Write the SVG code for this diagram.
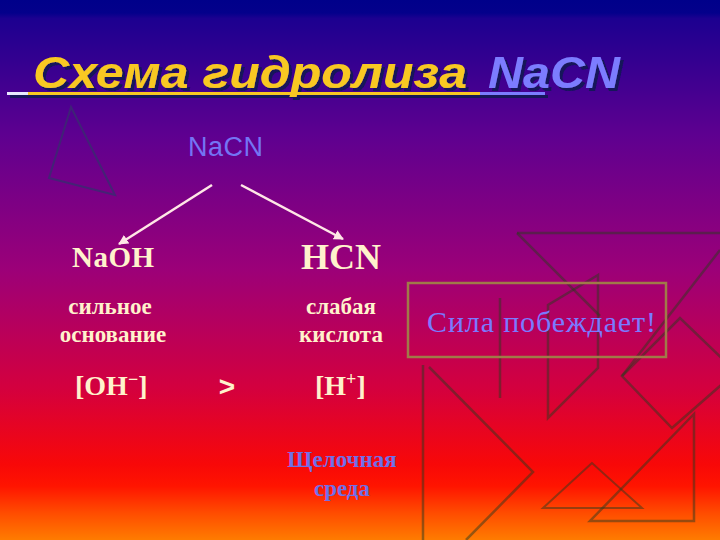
<svg xmlns="http://www.w3.org/2000/svg" width="720" height="540" viewBox="0 0 720 540">
<defs>
<linearGradient id="bg" x1="0" y1="0" x2="0" y2="1">
<stop offset="0" stop-color="#00008a"/>
<stop offset="0.024" stop-color="#04008b"/>
<stop offset="0.034" stop-color="#1c0090"/>
<stop offset="0.25" stop-color="#5e0090"/>
<stop offset="0.5" stop-color="#9c0078"/>
<stop offset="0.72" stop-color="#d4003e"/>
<stop offset="0.86" stop-color="#f80808"/>
<stop offset="0.9" stop-color="#ff1400"/>
<stop offset="0.95" stop-color="#ff4c00"/>
<stop offset="1" stop-color="#ff7c00"/>
</linearGradient>
<filter id="shadow" x="-5%" y="-20%" width="115%" height="150%">
<feOffset in="SourceAlpha" dx="2.5" dy="2.5" result="o"/>
<feFlood flood-color="#14145a"/>
<feComposite in2="o" operator="in" result="s"/>
<feMerge><feMergeNode in="s"/><feMergeNode in="SourceGraphic"/></feMerge>
</filter>
<marker id="ah" viewBox="0 0 10 10" refX="9" refY="5" markerWidth="4" markerHeight="4" orient="auto" markerUnits="strokeWidth">
<path d="M0,0 L10,5 L0,10 z" fill="#ffe6e6"/>
</marker>
<style>
.deco{fill:none;stroke:#2e3a1e;stroke-opacity:0.5;stroke-width:2.5;stroke-linejoin:miter}
.title{font-family:"Liberation Sans",Arial,sans-serif;font-weight:bold;font-style:italic;font-size:45px}
.serif{font-family:"Liberation Serif","Times New Roman",serif;font-weight:bold}
.cream{fill:#fff2cc}
.blue{fill:#7474f4}
.conn{stroke:#ffe6e6;stroke-width:2.5;fill:none;marker-end:url(#ah)}
</style>
</defs>
<rect x="0" y="0" width="720" height="540" fill="url(#bg)"/>

<g id="decor">
<polygon class="deco" points="71,107 49,178 115,195" style="stroke:#3a2a70;stroke-opacity:0.8;stroke-width:2"/>
<line class="deco" x1="517" y1="233" x2="720" y2="233"/>
<line class="deco" x1="517" y1="233" x2="600" y2="316"/>
<polygon class="deco" points="598,275 548,305 548,418 598,368"/>
<line class="deco" x1="720" y1="250" x2="622" y2="376"/>
<polygon class="deco" points="622,376 680,318 736,372 672,428"/>
<line class="deco" x1="500" y1="298" x2="500" y2="398"/>
<polyline class="deco" points="423,365 423,540"/>
<polyline class="deco" points="429,367 533,472 466,540"/>
<polygon class="deco" points="592,463 543,508 642,508" style="stroke-width:2"/>
<polygon class="deco" points="694,414 694,521 590,521" style="stroke-width:2.5"/>
</g>

<g id="title" filter="url(#shadow)">
<text class="title" x="33" y="88" fill="#f8c820" textLength="434" lengthAdjust="spacingAndGlyphs">Схема гидролиза</text>
<text class="title" x="488" y="88" fill="#7b7bff" textLength="132" lengthAdjust="spacingAndGlyphs">NaCN</text>
<rect x="7" y="92" width="21" height="3" fill="#e8e8ff"/>
<rect x="28" y="92" width="452" height="3" fill="#f8c820"/>
<rect x="480" y="92" width="65" height="3" fill="#7b7bff"/>
</g>

<g id="nacn">
<text x="188" y="156" font-family="'Liberation Sans',Arial,sans-serif" font-size="27" class="blue" textLength="75">NaCN</text>
</g>

<g id="connectors">
<line class="conn" x1="212" y1="185" x2="119" y2="244"/>
<line class="conn" x1="241" y1="185" x2="343" y2="239"/>
</g>

<g id="naoh">
<text class="serif cream" x="72" y="267" font-size="29" textLength="82">NaOH</text>
<text class="serif cream" x="110" y="314" font-size="23" text-anchor="middle">сильное</text>
<text class="serif cream" x="113" y="342" font-size="23" text-anchor="middle">основание</text>
<text class="serif cream" x="75" y="395" font-size="28">[OH<tspan font-size="18" dy="-10">−</tspan><tspan dy="10">]</tspan></text>
</g>

<g id="gt">
<text x="227" y="396" font-family="'Liberation Sans',Arial,sans-serif" font-weight="bold" font-size="28" class="cream" text-anchor="middle">&gt;</text>
</g>

<g id="hcn">
<text class="serif cream" x="341" y="269" font-size="36" text-anchor="middle">HCN</text>
<text class="serif cream" x="341" y="314" font-size="23" text-anchor="middle">слабая</text>
<text class="serif cream" x="341" y="342" font-size="23" text-anchor="middle">кислота</text>
<text class="serif cream" x="315" y="395" font-size="28">[H<tspan font-size="18" dy="-10">+</tspan><tspan dy="10">]</tspan></text>
</g>

<g id="medium">
<text class="serif" x="342" y="467" font-size="23" fill="#7070e8" text-anchor="middle">Щелочная</text>
<text class="serif" x="342" y="496" font-size="23" fill="#7070e8" text-anchor="middle">среда</text>
</g>

<g id="callout">
<rect x="408" y="283" width="258" height="74" fill="none" stroke="#a07a48" stroke-width="2.5"/>
<text x="427" y="332" font-family="'Liberation Serif','Times New Roman',serif" font-size="30" fill="#7a7aff" textLength="229" lengthAdjust="spacing">Сила побеждает!</text>
</g>
</svg>
